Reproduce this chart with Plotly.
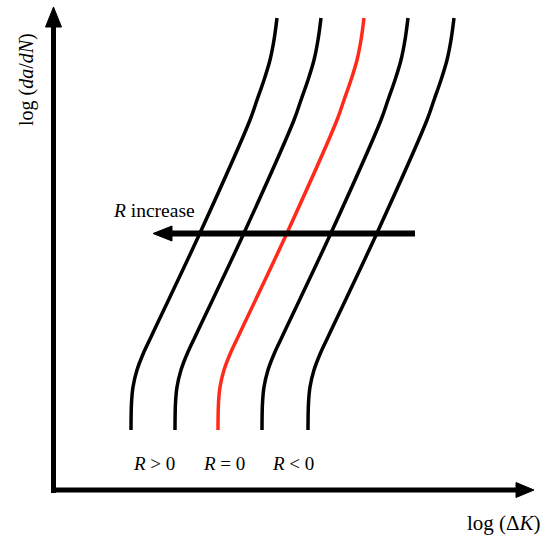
import plotly.graph_objects as go

# Base fatigue-crack-growth curve for R = 0 (arbitrary log units)
log_dK_R0 = [218, 218.5, 220, 224, 230.5, 238, 246, 287, 337, 344, 351, 357, 361, 364]
log_dadN = [108, 135, 151, 168, 185, 201, 218, 305, 418, 438, 458, 478, 498, 520]

# Horizontal shift of each curve with stress ratio R (left = higher R)
curve_shifts = [-87, -43, 0, 44, 90]
curve_colors = ["black", "black", "#ff2a1a", "black", "black"]

ratio_labels = ["<i>R</i> > 0", "<i>R</i> = 0", "<i>R</i> < 0"]
ratio_label_x = [154, 223.5, 292.5]

W, H = 545, 538
FONT = "Liberation Serif, Times New Roman, serif"

fig = go.Figure()
for shift, color in zip(curve_shifts, curve_colors):
    fig.add_trace(go.Scatter(
        x=[v + shift for v in log_dK_R0], y=log_dadN, mode="lines",
        line=dict(color=color, width=3.5, shape="spline", smoothing=1.0),
        hoverinfo="skip", showlegend=False))

def Y(py):
    return H - py

shapes = []
# vertical axis
shapes.append(dict(type="line", x0=53.5, x1=53.5, y0=Y(493), y1=Y(25),
                   line=dict(color="black", width=5)))
shapes.append(dict(type="path", path=f"M 45.5 {Y(27)} L 53.5 {Y(7)} L 61.5 {Y(27)} Z",
                   fillcolor="black", line=dict(color="black", width=1)))
# horizontal axis
shapes.append(dict(type="line", x0=51, x1=518, y0=Y(490), y1=Y(490),
                   line=dict(color="black", width=5)))
shapes.append(dict(type="path", path=f"M 516 {Y(482.5)} L 534 {Y(490)} L 516 {Y(497.5)} Z",
                   fillcolor="black", line=dict(color="black", width=1)))
# R increase arrow
shapes.append(dict(type="line", x0=415, x1=170, y0=Y(233.5), y1=Y(233.5),
                   line=dict(color="black", width=6)))
shapes.append(dict(type="path", path=f"M 172 {Y(226)} L 153 {Y(233.5)} L 172 {Y(241)} Z",
                   fillcolor="black", line=dict(color="black", width=1)))

annotations = [
    dict(x=26, y=Y(80), text="log (<i>da</i>/<i>dN</i>)", textangle=-90,
         font=dict(family=FONT, size=20, color="black")),
    dict(x=504, y=Y(523), text="log (Δ<i>K</i>)",
         font=dict(family=FONT, size=21, color="black")),
    dict(x=154, y=Y(210), text="<i>R</i> increase",
         font=dict(family=FONT, size=19.5, color="black")),
]
for lbl, lx in zip(ratio_labels, ratio_label_x):
    annotations.append(dict(x=lx, y=Y(463), text=lbl,
                            font=dict(family=FONT, size=19, color="black")))
for a in annotations:
    a.update(xref="x", yref="y", showarrow=False, xanchor="center", yanchor="middle")

fig.update_layout(
    width=W, height=H, margin=dict(l=0, r=0, t=0, b=0),
    paper_bgcolor="white", plot_bgcolor="white",
    xaxis=dict(range=[0, W], visible=False, fixedrange=True),
    yaxis=dict(range=[0, H], visible=False, fixedrange=True),
    shapes=shapes, annotations=annotations,
)
fig.write_html("out.html")
